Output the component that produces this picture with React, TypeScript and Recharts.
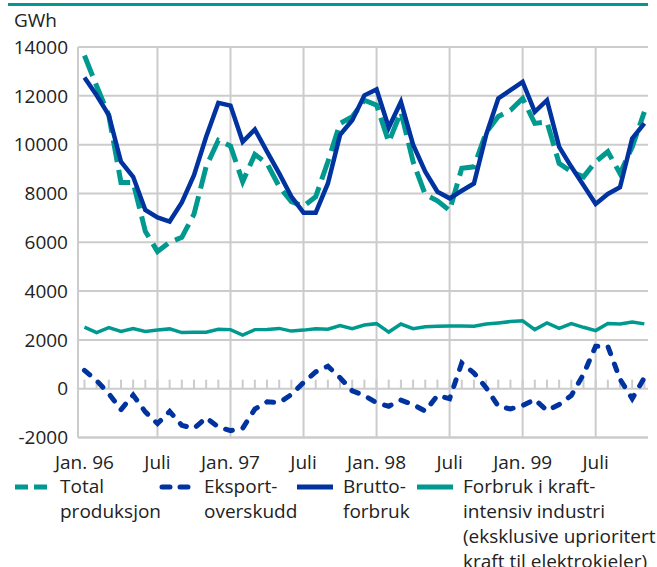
import { LineChart, Line, XAxis, YAxis, CartesianGrid, ReferenceLine } from 'recharts';

const TEAL = '#00998f';
const BLUE = '#0033a0';
const GRID = '#cccccc';
const FONT = "'Open Sans', sans-serif";

// monthly, Jan 1996 - Nov 1999
const totalProduksjon = [
  13650, 12400, 11200, 8450, 8450, 6450, 5620, 6000, 6200, 7150, 9100, 10180,
  9940, 8480, 9600, 9230, 8280, 7660, 7480, 7870, 9300, 10870, 11140, 11820,
  11620, 10100, 11340, 9300, 7950, 7700, 7300, 9030, 9090, 10500, 11150, 11410,
  11890, 10870, 10930, 9230, 8890, 8680, 9300, 9710, 8820, 9900, 11340,
];
const eksportOverskudd = [
  750, 330, -200, -860, -260, -950, -1430, -930, -1500, -1630, -1190, -1570,
  -1720, -1620, -840, -540, -570, -240, 255, 690, 920, 450, -90, -280,
  -580, -720, -470, -650, -920, -280, -410, 1050, 640, 40, -720, -830,
  -690, -440, -900, -650, -280, 590, 1740, 1740, 390, -410, 450,
];
const bruttoForbruk = [
  12750, 12020, 11210, 9300, 8680, 7320, 7020, 6850, 7630, 8750, 10320, 11710,
  11600, 10115, 10620, 9710, 8820, 7870, 7210, 7210, 8410, 10400, 11000, 12020,
  12260, 10700, 11750, 10000, 8890, 8070, 7800, 8110, 8410, 10400, 11890, 12230,
  12570, 11340, 11820, 9910, 9090, 8340, 7570, 7980, 8250, 10250, 10870,
];
const kraftintensiv = [
  2520, 2300, 2500, 2345, 2460, 2345, 2400, 2450, 2300, 2310, 2310, 2435,
  2420, 2200, 2420, 2430, 2470, 2360, 2400, 2460, 2435, 2590, 2460, 2610,
  2665, 2320, 2650, 2460, 2540, 2560, 2570, 2570, 2560, 2650, 2695, 2750,
  2785, 2420, 2695, 2475, 2665, 2515, 2380, 2675, 2655, 2735, 2655,
];

const xTicks = [0, 6, 12, 18, 24, 30, 36, 42];
const xTickLabels = ['Jan. 96', 'Juli', 'Jan. 97', 'Juli', 'Jan. 98', 'Juli', 'Jan. 99', 'Juli'];
const gridMonths = [6, 12, 18, 24, 30, 36, 42];
const yTicks = [-2000, 0, 2000, 4000, 6000, 8000, 10000, 12000, 14000];

const data = totalProduksjon.map((v, i) => ({
  idx: i,
  total: v,
  eksport: eksportOverskudd[i],
  brutto: bruttoForbruk[i],
  kraft: kraftintensiv[i],
}));

const legendItems = [
  { left: 15, textLeft: 60, color: TEAL, dash: '13 6', cap: 'butt', lines: ['Total', 'produksjon'] },
  { left: 159, textLeft: 204, color: BLUE, dash: '8 10', cap: 'round', lines: ['Eksport-', 'overskudd'] },
  { left: 297, textLeft: 343, color: BLUE, dash: undefined, cap: 'butt', lines: ['Brutto-', 'forbruk'] },
  {
    left: 417,
    textLeft: 463,
    color: TEAL,
    dash: undefined,
    cap: 'butt',
    lines: ['Forbruk i kraft-', 'intensiv industri', '(eksklusive uprioritert', 'kraft til elektrokjeler)'],
  },
];

export default function App() {
  return (
    <div
      style={{
        position: 'absolute',
        left: 0,
        top: 0,
        width: 657,
        height: 567,
        overflow: 'hidden',
        background: '#fff',
        fontFamily: FONT,
        color: '#222',
      }}
    >
      <div style={{ position: 'absolute', left: 8, top: 3, width: 640, height: 3, background: TEAL }} />
      <div style={{ position: 'absolute', left: 14, top: 8, fontSize: 19, lineHeight: '25px' }}>GWh</div>

      <div style={{ position: 'absolute', left: 0, top: 0 }}>
        <LineChart width={657} height={500} data={data} margin={{ top: 47, right: 9, bottom: 0, left: 0 }}>
          <CartesianGrid stroke={GRID} strokeWidth={2} vertical={false} />
          <XAxis
            type="number"
            dataKey="idx"
            domain={[-0.53, 46.3]}
            allowDataOverflow
            ticks={xTicks}
            tickFormatter={(v: number) => xTickLabels[xTicks.indexOf(v)] ?? ''}
            interval={0}
            height={62.5}
            tickLine={false}
            tickMargin={12}
            axisLine={{ stroke: GRID, strokeWidth: 2 }}
            tick={{ fill: '#222', fontSize: 19, fontFamily: FONT }}
          />
          <YAxis
            type="number"
            domain={[-2000, 14000]}
            ticks={yTicks}
            interval={0}
            width={78}
            tickLine={false}
            tickMargin={4}
            axisLine={{ stroke: GRID, strokeWidth: 2 }}
            tick={{ fill: '#222', fontSize: 19, fontFamily: FONT }}
          />
          {gridMonths.map((m) => (
            <ReferenceLine key={'g' + m} x={m} stroke={GRID} strokeWidth={2} />
          ))}
          {data.map((d) => (
            <ReferenceLine
              key={'t' + d.idx}
              segment={[
                { x: d.idx, y: 0 },
                { x: d.idx, y: 370 },
              ]}
              stroke={GRID}
              strokeWidth={2}
            />
          ))}
          <Line
            dataKey="total"
            stroke={TEAL}
            strokeWidth={5}
            strokeDasharray="22 8"
            dot={false}
            isAnimationActive={false}
          />
          <Line
            dataKey="eksport"
            stroke={BLUE}
            strokeWidth={5}
            strokeDasharray="7 11"
            strokeLinecap="round"
            dot={false}
            isAnimationActive={false}
          />
          <Line dataKey="brutto" stroke={BLUE} strokeWidth={4.5} dot={false} isAnimationActive={false} />
          <Line dataKey="kraft" stroke={TEAL} strokeWidth={3.5} dot={false} isAnimationActive={false} />
        </LineChart>
      </div>

      {legendItems.map((item, k) => (
        <div key={k}>
          <svg width={40} height={10} style={{ position: 'absolute', left: item.left - 2, top: 482 }}>
            <line
              x1={item.cap === 'round' ? 5 : 2}
              y1={5}
              x2={item.cap === 'round' ? 37 : 38}
              y2={5}
              stroke={item.color}
              strokeWidth={5}
              strokeDasharray={item.dash}
              strokeLinecap={item.cap as any}
            />
          </svg>
          <div
            style={{
              position: 'absolute',
              left: item.textLeft,
              top: 474,
              fontSize: 19,
              lineHeight: '25px',
              whiteSpace: 'nowrap',
            }}
          >
            {item.lines.map((l, j) => (
              <div key={j}>{l}</div>
            ))}
          </div>
        </div>
      ))}
    </div>
  );
}
